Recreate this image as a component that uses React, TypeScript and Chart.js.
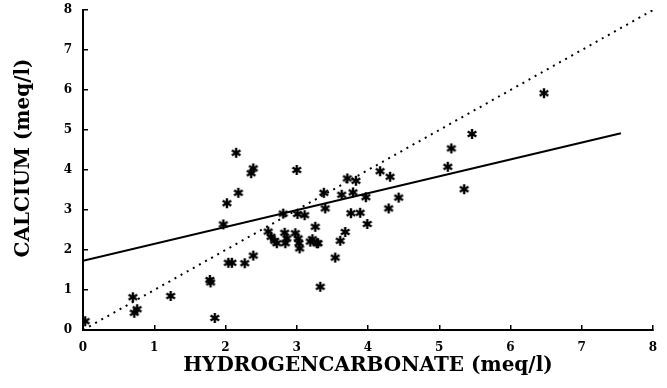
import React, { useEffect, useRef } from "react";
import { Chart, registerables } from "chart.js";

Chart.register(...registerables);

// Observations (HCO3, Ca) in meq/l
const hco3 = [
  0.03, 0.70, 0.72, 0.76, 1.23, 1.78, 1.79, 1.85, 1.97, 2.02,
  2.04, 2.09, 2.15, 2.18, 2.27, 2.39, 2.36, 2.39, 2.60, 2.64,
  2.69, 2.72, 2.83, 2.86, 2.84, 2.81, 2.98, 3.02, 3.03, 3.04,
  3.01, 3.11, 3.00, 3.19, 3.22, 3.28, 3.30, 3.26, 3.33, 3.38,
  3.40, 3.54, 3.61, 3.68, 3.63, 3.71, 3.79, 3.83, 3.76, 3.89,
  3.97, 3.99, 4.17, 4.31, 4.29, 4.43, 5.12, 5.17, 5.35, 5.46,
  6.47,
];
const calcium = [
  0.22, 0.82, 0.43, 0.52, 0.85, 1.25, 1.19, 0.30, 2.64, 3.17,
  1.68, 1.68, 4.43, 3.43, 1.67, 1.86, 3.92, 4.04, 2.46, 2.33,
  2.23, 2.17, 2.43, 2.29, 2.17, 2.91, 2.42, 2.29, 2.17, 2.04,
  2.90, 2.87, 4.00, 2.21, 2.27, 2.17, 2.17, 2.58, 1.08, 3.43,
  3.04, 1.81, 2.23, 2.45, 3.38, 3.79, 3.44, 3.73, 2.92, 2.93,
  3.32, 2.65, 3.97, 3.83, 3.04, 3.31, 4.08, 4.54, 3.52, 4.90,
  5.92,
];

// Regression line end points
const regX = [0, 7.55];
const regY = [1.73, 4.92];
// 1:1 line
const oneX = [0, 8];
const oneY = [0, 8];

const tickValues = [0, 1, 2, 3, 4, 5, 6, 7, 8];
const xTitle = "HYDROGENCARBONATE (meq/l)";
const yTitle = "CALCIUM (meq/l)";

function makeAsterisk(): HTMLCanvasElement {
  const c = document.createElement("canvas");
  const s = 12;
  c.width = s;
  c.height = s;
  const ctx = c.getContext("2d")!;
  ctx.strokeStyle = "#000";
  ctx.lineWidth = 2.4;
  ctx.lineCap = "butt";
  const r = 5;
  const cx = s / 2;
  const cy = s / 2;
  for (const a of [90, 30, 150]) {
    const rad = (a * Math.PI) / 180;
    ctx.beginPath();
    ctx.moveTo(cx - r * Math.cos(rad), cy - r * Math.sin(rad));
    ctx.lineTo(cx + r * Math.cos(rad), cy + r * Math.sin(rad));
    ctx.stroke();
  }
  ctx.fillStyle = "#000";
  ctx.beginPath();
  ctx.arc(cx, cy, 2.2, 0, Math.PI * 2);
  ctx.fill();
  return c;
}

const titlePlugin = {
  id: "axisTitles",
  afterDraw(chart: any) {
    const ctx = chart.ctx;
    const ca = chart.chartArea;
    ctx.save();
    ctx.fillStyle = "#000";
    ctx.font = "bold 20px 'DejaVu Serif'";
    ctx.textAlign = "center";
    ctx.textBaseline = "middle";
    ctx.fillText(xTitle, (ca.left + ca.right) / 2, 366);
    ctx.translate(24, 158);
    ctx.rotate(-Math.PI / 2);
    ctx.fillText(yTitle, 0, 0);
    ctx.restore();
  },
};

export default function App() {
  const ref = useRef<HTMLCanvasElement>(null);
  useEffect(() => {
    document.body.style.margin = "0";
    const star = makeAsterisk();
    const pts = hco3.map((x, i) => ({ x, y: calcium[i] }));
    const reg = regX.map((x, i) => ({ x, y: regY[i] }));
    const one = oneX.map((x, i) => ({ x, y: oneY[i] }));
    const tickFont = { family: "'DejaVu Serif'", size: 12, weight: "bold" as const };
    const chart = new Chart(ref.current!, {
      type: "scatter",
      data: {
        datasets: [
          {
            data: one,
            showLine: true,
            borderColor: "#000",
            borderWidth: 2,
            borderDash: [2, 5],
            pointRadius: 0,
            fill: false,
          },
          {
            data: reg,
            showLine: true,
            borderColor: "#000",
            borderWidth: 2,
            pointRadius: 0,
            fill: false,
          },
          {
            data: pts,
            pointStyle: star as any,
            pointRadius: 5,
            showLine: false,
          },
        ],
      },
      options: {
        animation: false,
        responsive: true,
        maintainAspectRatio: false,
        layout: { padding: { top: 10, right: 14, left: 0, bottom: 0 } },
        plugins: { legend: { display: false }, tooltip: { enabled: false } },
        scales: {
          x: {
            type: "linear",
            min: 0,
            max: 8,
            afterBuildTicks: (s: any) => {
              s.ticks = tickValues.map((v) => ({ value: v }));
            },
            afterFit: (s: any) => {
              s.height = 58;
              s.paddingLeft = 0;
              s.paddingRight = 0;
              s.paddingTop = 0;
              s.paddingBottom = 0;
            },
            ticks: { color: "#000", font: tickFont, padding: 16, maxRotation: 0 },
            grid: { drawOnChartArea: false, drawTicks: true, tickLength: -5, color: "#000", lineWidth: 1.5 },
            border: { display: true, color: "#000", width: 2 },
          },
          y: {
            type: "linear",
            min: 0,
            max: 8,
            afterBuildTicks: (s: any) => {
              s.ticks = tickValues.map((v) => ({ value: v }));
            },
            afterFit: (s: any) => {
              s.width = 83;
              s.paddingLeft = 0;
              s.paddingRight = 0;
              s.paddingTop = 0;
              s.paddingBottom = 0;
            },
            ticks: { color: "#000", font: tickFont, padding: 16 },
            grid: { drawOnChartArea: false, drawTicks: true, tickLength: -5, color: "#000", lineWidth: 1.5 },
            border: { display: true, color: "#000", width: 2 },
          },
        },
      },
      plugins: [titlePlugin],
    });
    return () => chart.destroy();
  }, []);
  return (
    <div style={{ position: "relative", width: 667, height: 388 }}>
      <canvas ref={ref} />
    </div>
  );
}
